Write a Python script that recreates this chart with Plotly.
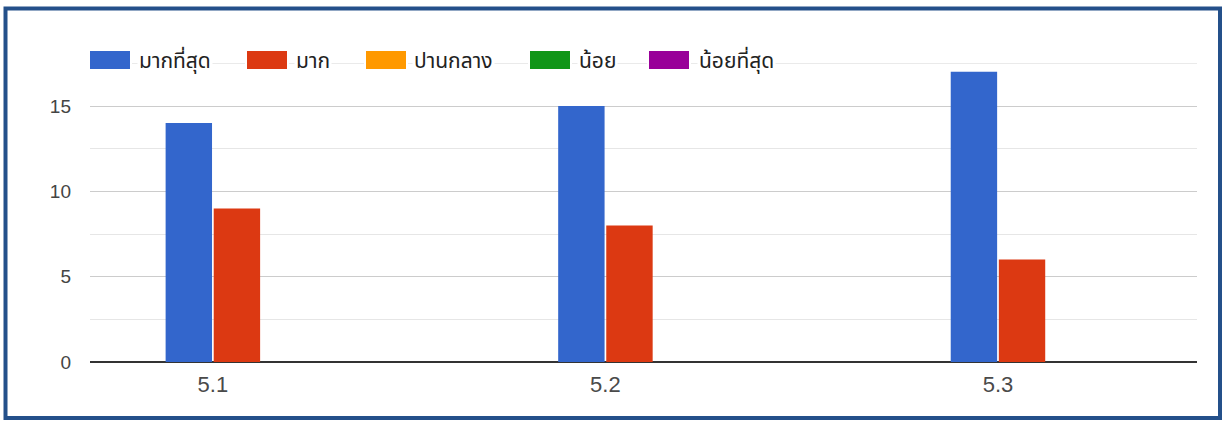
import plotly.graph_objects as go

categories = ["5.1", "5.2", "5.3"]
series_names = ["มากที่สุด", "มาก", "ปานกลาง", "น้อย", "น้อยที่สุด"]
series_colors = ["#3366cc", "#dc3912", "#ff9900", "#109618", "#990099"]
most = [14, 15, 17]
much = [9, 8, 6]
medium = [0, 0, 0]
little = [0, 0, 0]
least = [0, 0, 0]
values = [most, much, medium, little, least]
y_ticks = [0, 5, 10, 15]
y_max = 17.5

W, H = 1224, 421
ML, MR, MT, MB = 90, 27, 63, 59
PW, PH = W - ML - MR, H - MT - MB


def px(x):
    return (x - ML) / PW


def py(y):
    return 1 - (y - MT) / PH


fig = go.Figure()
offsets = ["a", "b", "b", "b", "b"]
for name, col, vals, og in zip(series_names, series_colors, values, offsets):
    fig.add_trace(go.Bar(x=categories, y=vals, name=name, marker_color=col,
                         marker_line_width=0, offsetgroup=og, showlegend=False))

# top minor gridline (behind legend)
shapes = [dict(type="line", xref="paper", yref="y", x0=0, x1=1, y0=y_max, y1=y_max,
               line=dict(color="#e6e6e6", width=1), layer="below")]

# manual legend
legend_layout = [(90, 140), (247, 297), (366, 415), (530, 580), (649, 700)]
bg_shapes = []
sw_shapes = []
annotations = []
for (sx, tx), name, col in zip(legend_layout, series_names, series_colors):
    bg_shapes.append(dict(type="rect", xref="paper", yref="paper",
                          x0=px(sx - 2), x1=px(sx + 42), y0=py(71), y1=py(49),
                          fillcolor="white", line=dict(width=0), layer="above"))
    sw_shapes.append(dict(type="rect", xref="paper", yref="paper",
                          x0=px(sx), x1=px(sx + 40), y0=py(69), y1=py(51),
                          fillcolor=col, line=dict(width=0), layer="above"))
    annotations.append(dict(text=name, xref="paper", yref="paper",
                            x=px(tx - 3), y=py(61), xanchor="left", yanchor="middle",
                            showarrow=False, bgcolor="white",
                            font=dict(size=21, color="#222222", family="Noto Sans Thai, Noto Sans, sans-serif")))
shapes += bg_shapes + sw_shapes

# outer frame
shapes.append(dict(type="rect", xref="paper", yref="paper",
                   x0=px(5.5), x1=px(1220), y0=py(418), y1=py(8.5),
                   line=dict(color="#24508a", width=4), layer="above"))

fig.update_layout(
    width=W, height=H,
    margin=dict(l=ML, r=MR, t=MT, b=MB),
    paper_bgcolor="white", plot_bgcolor="white",
    barmode="group", bargap=0.755, bargroupgap=0.035,
    font=dict(family="Liberation Sans, Arial, sans-serif", color="#444444"),
    shapes=shapes, annotations=annotations,
    xaxis=dict(type="category", range=[-0.313, 2.507], showgrid=False,
               tickfont=dict(size=22, color="#4a4a4a"), ticks="",
               ticklabelstandoff=7,
               showline=False, zeroline=False),
    yaxis=dict(range=[0, y_max + 0.02], tickvals=y_ticks, showgrid=True,
               gridcolor="#cccccc", gridwidth=1,
               tickfont=dict(size=19, color="#444444"),
               zeroline=True, zerolinecolor="#333333", zerolinewidth=2,
               ticklabelstandoff=18,
               minor=dict(dtick=2.5, showgrid=True, gridcolor="#e6e6e6", gridwidth=1)),
)

fig.write_html("out.html", config={"displayModeBar": False},
               post_script="document.body.style.margin='0';document.body.style.overflow='hidden';")
